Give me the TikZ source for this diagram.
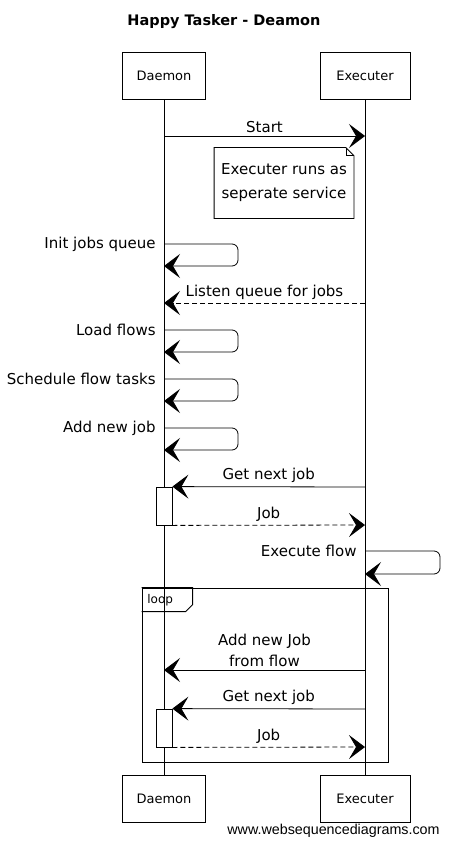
\documentclass[tikz,border=0pt]{standalone}
\usepackage{fontspec}
\setmainfont{DejaVu Sans}
\newfontfamily\creditfont{Liberation Sans}
\usetikzlibrary{arrows.meta}

\begin{document}
\begin{tikzpicture}[x=1pt, y=-1pt, line width=0.8pt, font=\fontsize{15}{21}\selectfont,
    actor/.style={draw, minimum height=47pt, inner sep=0pt, font=\fontsize{13}{15}\selectfont},
    msg/.style={-{Stealth[length=16pt, width=24pt, inset=7pt]}},
    reply/.style={msg, dash pattern=on 5pt off 3pt},
    act/.style={draw, fill=white, minimum width=16pt, minimum height=38pt, inner sep=0pt},
    lbl/.style={anchor=east, inner sep=2pt, xshift=-6pt}]
    \useasboundingbox (0,0) rectangle (450,845);

    \node[font=\bfseries\fontsize{14.5}{17}\selectfont] (title) at (224,22) {Happy Tasker - Deamon};

    % participants
    \node[actor, minimum width=83pt] (dTop) at (164,76) {Daemon};
    \node[actor, minimum width=90pt] (eTop) at (365,76) {Executer};
    \node[actor, minimum width=83pt] (dBot) at (164,799) {Daemon};
    \node[actor, minimum width=90pt] (eBot) at (365,799) {Executer};
    \draw (dTop) -- (dBot);
    \draw (eTop) -- (eBot);

    \coordinate (dStart) at (164,136);
    \coordinate (eStart) at (365,136);
    \draw[msg] (dStart) -- node[above] (lStart) {Start} (eStart);

    % note
    \node[minimum width=139pt, minimum height=70pt, align=center, font=\fontsize{15}{24}\selectfont] (note) at (284,183) {Executer runs as\\seperate service};
    \draw (note.north west) -- ([xshift=-8pt]note.north east) -- ([yshift=-8pt]note.north east)
        -- (note.south east) -- (note.south west) -- cycle;
    \draw ([xshift=-8pt]note.north east) -- ++(0,8) -- ++(8,0);

    % self calls of the daemon
    \foreach \y/\txt/\n in {244/Init jobs queue/init, 330/Load flows/load,
                            379/Schedule flow tasks/sched, 428/Add new job/add} {
        \coordinate (d\n) at (164,\y);
        \coordinate (d\n R) at (164,\y+22);
        \draw[msg, rounded corners=6pt] (d\n) -- ++(74,0) |- (d\n R);
        \node[lbl] (l\n) at (d\n) {\txt};
    }

    \coordinate (eListen) at (365,303);
    \coordinate (dListen) at (164,303);
    \draw[reply] (eListen) -- node[above] (lListen) {Listen queue for jobs} (dListen);

    \node[act] (act1) at (164,506) {};
    \coordinate (eGet1) at (365,487);
    \coordinate (eJob1) at (365,525);
    \draw[msg] (eGet1) -- node[above] (lGet1) {Get next job} (act1.north east);
    \draw[reply] (act1.south east) -- node[above] (lJob1) {Job} (eJob1);

    \coordinate (eExec) at (365,551);
    \coordinate (eExecR) at (365,574);
    \draw[msg, rounded corners=6pt] (eExec) -- ++(75,0) |- (eExecR);
    \node[lbl] (lExec) at (eExec) {Execute flow};

    % loop
    \node[draw, minimum width=246pt, minimum height=174pt, inner sep=0pt] (loopfr) at (265,675) {};
    \draw (loopfr.north west) -- ++(51,0) -- ++(0,17) -- ++(-7,7) -- ++(-44,0);
    \node[anchor=west, inner sep=0pt, font=\fontsize{12}{14}\selectfont] (lLoop) at (147,600) {loop};

    \coordinate (eAdd) at (365,670);
    \coordinate (dAdd) at (164,670);
    \draw[msg] (eAdd) -- node[above, align=center] (lAdd) {Add new Job\\from flow} (dAdd);

    \node[act] (act2) at (164,728) {};
    \coordinate (eGet2) at (365,709);
    \coordinate (eJob2) at (365,747);
    \draw[msg] (eGet2) -- node[above] (lGet2) {Get next job} (act2.north east);
    \draw[reply] (act2.south east) -- node[above] (lJob2) {Job} (eJob2);

    \node[anchor=east, inner sep=0pt, font=\creditfont\fontsize{14.3}{16}\selectfont] (credit) at (440,831) {www.websequencediagrams.com};
\end{tikzpicture}
\end{document}
